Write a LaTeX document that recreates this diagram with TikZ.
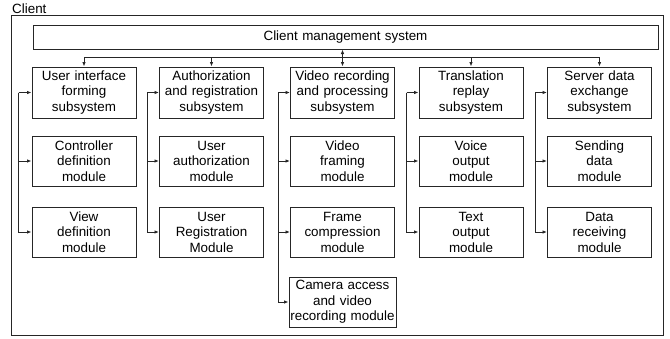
\documentclass[tikz,border=0pt]{standalone}
\usepackage{fontspec}
\setmainfont{Liberation Sans}
\usetikzlibrary{arrows.meta}
\begin{document}
\begin{tikzpicture}[x=1pt,y=-1pt,
  every node/.style={font=\fontsize{13.4}{15.5}\selectfont},
  box/.style={draw=black!85,line width=1pt,minimum width=104pt,minimum height=50pt,
    inner sep=0pt,align=center,text width=104pt},
  ln/.style={draw=black!85,line width=1pt},
  arr/.style={ln,-{Latex[length=4.5pt,width=3.6pt]}},
  arrb/.style={ln,{Latex[length=4.5pt,width=3.6pt]}-{Latex[length=4.5pt,width=3.6pt]}}]
\useasboundingbox (0,0) rectangle (670,338);
\node[draw=black!85,line width=1pt,minimum width=652pt,minimum height=320pt,inner sep=0pt] (frame) at (337,175) {};
\node[anchor=south west,inner sep=0pt] (client) at (12,14) {Client};
\node[box,minimum width=625pt,text width=625pt,minimum height=24pt] (top) at (345.5,37) {Client management system};
% row 1
\node[box,minimum height=51pt] (b11) at (84,92.5) {User interface\\forming\\subsystem};
\node[box,minimum height=51pt] (b21) at (211.5,92.5) {Authorization\\and registration\\subsystem};
\node[box,minimum height=51pt] (b31) at (342.5,92.5) {Video recording\\and processing\\subsystem};
\node[box,minimum height=51pt] (b41) at (471,92.5) {Translation\\replay\\subsystem};
\node[box,minimum height=51pt] (b51) at (599.5,92.5) {Server data\\exchange\\subsystem};
% row 2
\node[box] (b12) at (84,161) {Controller\\definition\\module};
\node[box] (b22) at (211.5,161) {User\\authorization\\module};
\node[box] (b32) at (342.5,161) {Video\\framing\\module};
\node[box] (b42) at (471,161) {Voice\\output\\module};
\node[box] (b52) at (599.5,161) {Sending\\data\\module};
% row 3
\node[box] (b13) at (84,232) {View\\definition\\module};
\node[box] (b23) at (211.5,232) {User\\Registration\\Module};
\node[box] (b33) at (342.5,232) {Frame\\compression\\module};
\node[box] (b43) at (471,232) {Text\\output\\module};
\node[box] (b53) at (599.5,232) {Data\\receiving\\module};
% row 4
\node[box,text width=107pt] (b34) at (342.5,302) {Camera access\\and video\\recording module};
% bus
\coordinate (bus) at (0,57);
\draw[ln] (b11.north |- bus) -- (b51.north |- bus);
\draw[arr] (b11.north |- bus) -- (b11.north);
\draw[arr] (b21.north |- bus) -- (b21.north);
\draw[arrb] (top.south -| b31.north) -- (b31.north);
\draw[arr] (b41.north |- bus) -- (b41.north);
\draw[arr] (b51.north |- bus) -- (b51.north);
% side connectors
\coordinate (s1) at ([xshift=-13pt]b11.west);
\coordinate (s2) at ([xshift=-12pt]b21.west);
\coordinate (s3) at ([xshift=-12pt]b31.west);
\coordinate (s4) at ([xshift=-12pt]b41.west);
\coordinate (s5) at ([xshift=-12pt]b51.west);
\draw[arr] (s1) -- (b11.west);
\draw[arr] (s1) |- (b12.west);
\draw[arr] (s1) |- (b13.west);
\draw[arr] (s2) -- (b21.west);
\draw[arr] (s2) |- (b22.west);
\draw[arr] (s2) |- (b23.west);
\draw[arr] (s3) -- (b31.west);
\draw[arr] (s3) |- (b32.west);
\draw[arr] (s3) |- (b33.west);
\draw[arr] (s3) |- (b34.west);
\draw[arr] (s4) -- (b41.west);
\draw[arr] (s4) |- (b42.west);
\draw[arr] (s4) |- (b43.west);
\draw[arr] (s5) -- (b51.west);
\draw[arr] (s5) |- (b52.west);
\draw[arr] (s5) |- (b53.west);
\end{tikzpicture}
\end{document}
